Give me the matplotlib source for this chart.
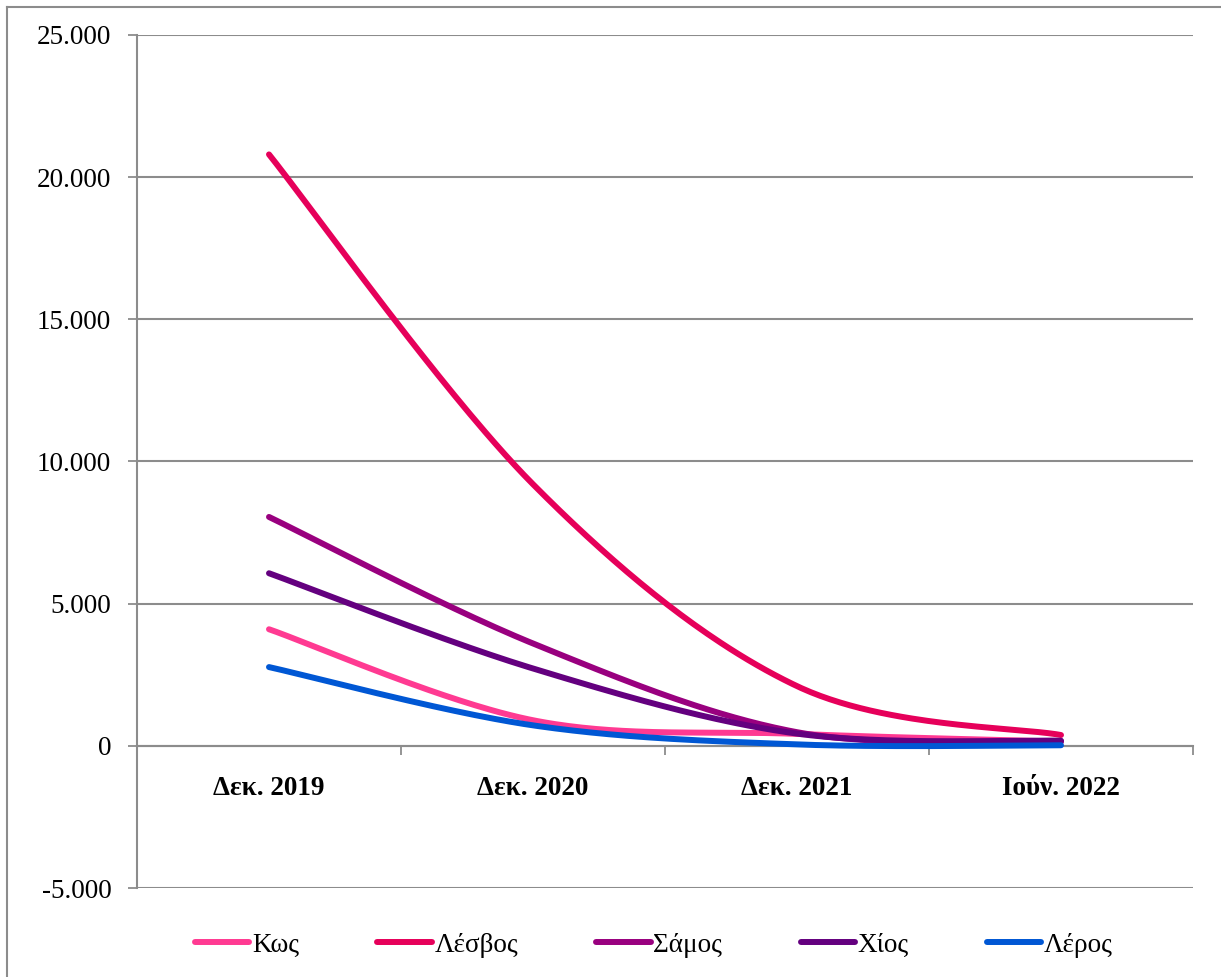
import numpy as np
import matplotlib
matplotlib.use("Agg")
import matplotlib.pyplot as plt
from matplotlib.lines import Line2D

plt.rcParams['font.family'] = ['Liberation Serif', 'DejaVu Serif']

# data
periods = ["Δεκ. 2019", "Δεκ. 2020", "Δεκ. 2021", "Ιούν. 2022"]
kos = [4100, 900, 420, 150]
lesvos = [20800, 9200, 2100, 380]
samos = [8050, 3600, 480, 150]
chios = [6070, 2720, 430, 180]
leros = [2770, 720, 50, 20]

series_names = ["Κως", "Λέσβος", "Σάμος", "Χίος", "Λέρος"]
series_values = [kos, lesvos, samos, chios, leros]
series_colors = ["#FF3A92", "#E6005A", "#99007F", "#64007F", "#0057D4"]

y_ticks = [-5000, 0, 5000, 10000, 15000, 20000, 25000]
y_labels = ["-5.000", "0", "5.000", "10.000", "15.000", "20.000", "25.000"]


def smooth(values, n=60):
    # bezier smoothing like the "smoothed line" option in spreadsheet charts
    pts = np.column_stack([np.arange(len(values)), np.asarray(values, float)])
    padded = np.vstack([pts[0], pts, pts[-1]])
    t = np.linspace(0, 1, n)[:, None]
    out = []
    for i in range(len(pts) - 1):
        p0, p3 = pts[i], pts[i + 1]
        c1 = p0 + (p3 - padded[i]) / 6
        c2 = p3 - (padded[i + 3] - p0) / 6
        seg = (1 - t) ** 3 * p0 + 3 * (1 - t) ** 2 * t * c1 + 3 * (1 - t) * t ** 2 * c2 + t ** 3 * p3
        out.append(seg if i == 0 else seg[1:])
    out = np.vstack(out)
    return out[:, 0], out[:, 1]


grid_color = "#8C8C8C"
fs = 19.5

fig = plt.figure(figsize=(12.21, 9.77), dpi=100)
ax = fig.add_axes([137 / 1221, 1 - 888 / 977, (1193 - 137) / 1221, (888 - 35) / 977])

# spine position first: moving it resets the tick objects
for s in ['top', 'right']:
    ax.spines[s].set_visible(False)
ax.spines['bottom'].set_position(('data', 0))
ax.spines['bottom'].set_color(grid_color)
ax.spines['bottom'].set_linewidth(1.5)
ax.spines['left'].set_color(grid_color)
ax.spines['left'].set_linewidth(1.5)

for name, vals, col in zip(series_names, series_values, series_colors):
    xs, ys = smooth(vals)
    ax.plot(xs, ys, color=col, lw=4.3, solid_capstyle='round', label=name, zorder=3)

ax.set_xlim(-0.5, len(periods) - 0.5)
ax.set_ylim(-5000, 25000)

ax.set_yticks(y_ticks)
ax.set_yticklabels(y_labels, fontsize=fs)
ax.yaxis.grid(True, color=grid_color, lw=1.5)
ax.set_axisbelow(True)
ax.tick_params(axis='y', direction='out', length=6.5, width=1.3, color=grid_color, pad=12)

ax.set_xticks(range(len(periods)))
ax.set_xticks(np.arange(len(periods) + 1) - 0.5, minor=True)
ax.set_xticklabels(periods, fontsize=fs, fontweight='bold')
ax.tick_params(axis='x', which='major', length=0, pad=22)
ax.tick_params(axis='x', which='minor', direction='out', length=6.5, width=1.3, color=grid_color)

leg = fig.legend(loc='center', bbox_to_anchor=(654 / 1221, 1 - 945 / 977), ncol=5,
                 frameon=False, fontsize=fs, handlelength=2.0, handletextpad=0.1,
                 columnspacing=2.9)
for h in leg.get_lines():
    h.set_linewidth(4.3)
    h.set_solid_capstyle('round')

# chart area border (only left and top edges fall inside the picture)
fig.add_artist(Line2D([7 / 1221, 7 / 1221], [0, 1 - 7 / 977], color=grid_color, lw=1.5,
                      transform=fig.transFigure))
fig.add_artist(Line2D([7 / 1221, 1], [1 - 7 / 977, 1 - 7 / 977], color=grid_color, lw=1.5,
                      transform=fig.transFigure))

fig.savefig("out.png", dpi=100)
